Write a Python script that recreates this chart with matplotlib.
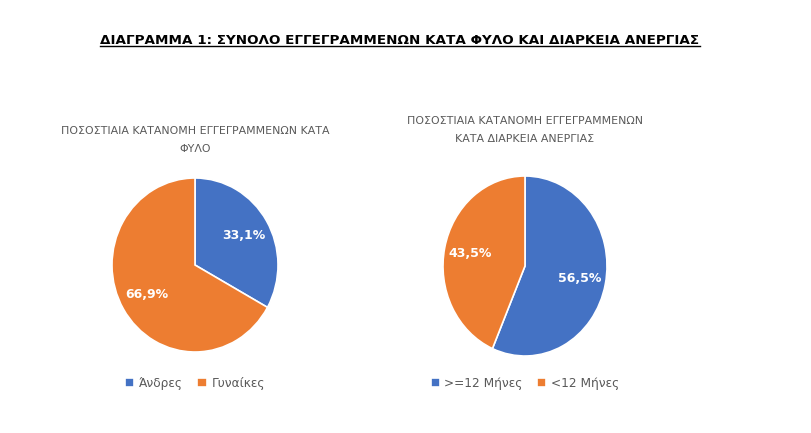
import numpy as np
import matplotlib.pyplot as plt
from matplotlib.lines import Line2D

plt.rcParams['font.family'] = ['DejaVu Sans']

# data
fylo_labels = ["Άνδρες", "Γυναίκες"]
fylo_values = [33.1, 66.9]
diarkeia_labels = [">=12 Μήνες", "<12 Μήνες"]
diarkeia_values = [56.5, 43.5]
colors = ["#4472C4", "#ED7D31"]

main_title = "ΔΙΑΓΡΑΜΜΑ 1: ΣΥΝΟΛΟ ΕΓΓΕΓΡΑΜΜΕΝΩΝ ΚΑΤΑ ΦΥΛΟ ΚΑΙ ΔΙΑΡΚΕΙΑ ΑΝΕΡΓΙΑΣ"
title1 = "ΠΟΣΟΣΤΙΑΙΑ ΚΑΤΑΝΟΜΗ ΕΓΓΕΓΡΑΜΜΕΝΩΝ ΚΑΤΑ\nΦΥΛΟ"
title2 = "ΠΟΣΟΣΤΙΑΙΑ ΚΑΤΑΝΟΜΗ ΕΓΓΕΓΡΑΜΜΕΝΩΝ\nΚΑΤΑ ΔΙΑΡΚΕΙΑ ΑΝΕΡΓΙΑΣ"

W, H = 812, 433
fig = plt.figure(figsize=(W / 100, H / 100), dpi=100)
fig.patch.set_facecolor("white")


def pct(p):
    return f"{p:.1f}%".replace(".", ",")


def draw_pie(cx, cy, rx, ry, values, labels, title, ty, legend_y):
    ax = fig.add_axes([(cx - rx) / W, 1 - (cy + ry) / H, 2 * rx / W, 2 * ry / H])
    wedges, texts, autotexts = ax.pie(
        values, colors=colors, startangle=90, counterclock=False,
        autopct=pct, pctdistance=0.68,
        wedgeprops=dict(edgecolor="white", linewidth=1.2))
    for t in autotexts:
        t.set_color("white")
        t.set_fontweight("bold")
        t.set_fontsize(9)
    ax.set_aspect("auto")
    ax.set_xlim(-1, 1)
    ax.set_ylim(-1, 1)
    fig.text(cx / W, 1 - ty / H, title, ha="center", va="top",
             fontsize=7.9, color="#595959", linespacing=2.05)
    fig.legend(wedges, labels, loc="center", bbox_to_anchor=(cx / W, 1 - legend_y / H),
               ncol=2, frameon=False, fontsize=8.7, handlelength=0.75, handleheight=0.75,
               handletextpad=0.4, columnspacing=1.2, labelcolor="#595959")


draw_pie(195, 265, 83, 87, fylo_values, fylo_labels, title1, 126, 383)
draw_pie(525, 266, 82, 90, diarkeia_values, diarkeia_labels, title2, 116, 383)

t = fig.text(400 / W, 1 - 40 / H, main_title, ha="center", va="center",
             fontsize=9.7, fontweight="bold", color="black")

# underline
fig.canvas.draw()
bb = t.get_window_extent().transformed(fig.transFigure.inverted())
fig.add_artist(Line2D([bb.x0, bb.x1], [bb.y0 + 0.002, bb.y0 + 0.002],
                      transform=fig.transFigure, color="black", linewidth=1))

fig.savefig("out.png", dpi=100)
